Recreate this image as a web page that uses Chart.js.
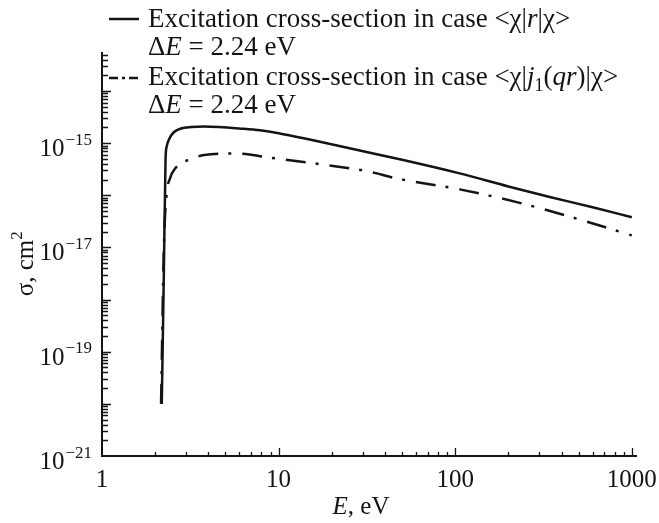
<!DOCTYPE html>
<html lang="en">
  <head>
    <meta charset="UTF-8" />
    <title>Excitation cross-section</title>
    <script src="https://cdn.jsdelivr.net/npm/chart.js"></script>
    <style>
      html, body { margin: 0; padding: 0; background: #fff; }
      #wrap { width: 659px; height: 523px; }
    </style>
  </head>
  <body>
    <div id="wrap"><canvas id="sigmaChart" width="659" height="523"></canvas></div>

    <script>
      // energy E, eV and cross-section sigma, cm^2
      const energyR = [2.18, 2.24, 2.29, 2.33, 2.42, 2.55, 2.8, 3.2, 3.8, 4.6, 6, 7.84, 10, 15, 28.8, 50, 106, 200, 343, 600, 1000];
      const sigmaR = [1.0e-20, 3.2e-18, 5.0e-16, 8.9e-16, 1.26e-15, 1.62e-15, 1.91e-15, 2.04e-15, 2.09e-15, 2.04e-15, 1.91e-15, 1.76e-15, 1.55e-15, 1.17e-15, 7.2e-16, 4.8e-16, 2.63e-16, 1.48e-16, 9.3e-17, 5.9e-17, 3.8e-17];

      const energyJ = [2.16, 2.24, 2.32, 2.43, 2.6, 3.2, 3.8, 5.0, 6.5, 7.84, 10, 18.8, 30, 36, 44, 106, 223, 527, 1000];
      const sigmaJ = [1.0e-20, 1.0e-17, 1.0e-16, 2.14e-16, 3.3e-16, 5.0e-16, 5.9e-16, 6.3e-16, 6.2e-16, 5.6e-16, 5.0e-16, 3.8e-16, 3.0e-16, 2.63e-16, 2.19e-16, 1.30e-16, 7.4e-17, 3.3e-17, 1.7e-17];

      const xTickLabels = ["1", "10", "100", "1000"];
      const yTickExps = [-21, -19, -17, -15];

      const FONT = '"Liberation Serif", "DejaVu Serif", "Times New Roman", serif';
      const INK = "#141414";

      function toPoints(xs, ys) {
        return xs.map((v, i) => ({ x: v, y: ys[i] }));
      }

      // draws a row of text pieces: [text, style] where style is "", "i" or "sub"
      function drawRuns(ctx, runs, x, y, size) {
        for (const [txt, st] of runs) {
          let f = size + "px " + FONT;
          let dy = 0;
          if (st === "i") f = "italic " + f;
          if (st === "sub") { f = Math.round(size * 0.68) + "px " + FONT; dy = size * 0.22; }
          ctx.font = f;
          ctx.fillText(txt, x, y + dy);
          x += ctx.measureText(txt).width;
        }
      }

      // "10" with a superscript exponent, right aligned at rx
      function drawPow(ctx, exp, rx, base, size) {
        const supTxt = "\u2212" + Math.abs(exp);
        ctx.font = Math.round(size * 0.68) + "px " + FONT;
        const sw = ctx.measureText(supTxt).width;
        ctx.fillText(supTxt, rx - sw, base - size * 0.45);
        ctx.font = size + "px " + FONT;
        const bw = ctx.measureText("10").width;
        ctx.fillText("10", rx - sw - bw - 1, base);
      }

      const axesPlugin = {
        id: "logAxes",
        afterDraw(chart) {
          const { ctx, chartArea: a } = chart;
          const xs = chart.scales.x, ys = chart.scales.y;
          ctx.save();
          ctx.strokeStyle = INK;
          ctx.fillStyle = INK;

          // axis lines
          ctx.lineWidth = 2;
          ctx.beginPath();
          ctx.moveTo(a.left, a.top);
          ctx.lineTo(a.left, a.bottom);
          ctx.lineTo(a.right, a.bottom);
          ctx.stroke();

          // x ticks, pointing up
          ctx.lineWidth = 1.3;
          ctx.beginPath();
          for (let e = 0; e <= 3; e++) {
            for (let m = 1; m <= 9; m++) {
              const v = m * Math.pow(10, e);
              if (v > xs.max || (e === 0 && m === 1)) continue;
              const px = Math.round(xs.getPixelForValue(v)) + 0.5;
              const len = m === 1 ? 8 : 4;
              ctx.moveTo(px, a.bottom);
              ctx.lineTo(px, a.bottom - len);
            }
          }
          // y ticks, pointing right
          for (let e = -21; e <= -14; e++) {
            for (let m = 1; m <= 9; m++) {
              const v = m * Math.pow(10, e);
              if (v > ys.max || (e === -21 && m === 1)) continue;
              const py = Math.round(ys.getPixelForValue(v)) + 0.5;
              const len = m === 1 ? 9 : 6;
              ctx.moveTo(a.left, py);
              ctx.lineTo(a.left + len, py);
            }
          }
          ctx.stroke();

          // x tick labels
          ctx.font = "25px " + FONT;
          ctx.textAlign = "center";
          ctx.textBaseline = "alphabetic";
          xTickLabels.forEach((t) => {
            ctx.fillText(t, xs.getPixelForValue(Number(t)), a.bottom + 31);
          });

          // y tick labels
          ctx.textAlign = "left";
          yTickExps.forEach((e) => {
            drawPow(ctx, e, a.left - 10, ys.getPixelForValue(Math.pow(10, e)) + 13, 25);
          });

          // axis titles
          ctx.font = "italic 25px " + FONT;
          const w1 = ctx.measureText("E").width;
          ctx.font = "25px " + FONT;
          const w2 = ctx.measureText(", eV").width;
          drawRuns(ctx, [["E", "i"], [", eV", ""]], 361 - (w1 + w2) / 2, 514, 25);

          ctx.save();
          ctx.translate(33, 262);
          ctx.rotate(-Math.PI / 2);
          ctx.font = "25px " + FONT;
          const tw = ctx.measureText("\u03c3, cm").width;
          ctx.fillText("\u03c3, cm", -tw / 2 - 6, 0);
          ctx.font = "17px " + FONT;
          ctx.fillText("2", tw / 2 - 6, -11);
          ctx.restore();

          // legend
          ctx.lineWidth = 2.5;
          ctx.setLineDash([]);
          ctx.beginPath();
          ctx.moveTo(109, 19);
          ctx.lineTo(139, 19);
          ctx.stroke();
          ctx.setLineDash([9, 4, 3, 4]);
          ctx.beginPath();
          ctx.moveTo(109, 78);
          ctx.lineTo(139, 78);
          ctx.stroke();
          ctx.setLineDash([]);

          const LS = 27;
          drawRuns(ctx, [["Excitation cross-section in case <\u03c7|", ""], ["r", "i"], ["|\u03c7>", ""]], 148, 27, LS);
          drawRuns(ctx, [["\u0394", ""], ["E", "i"], [" = 2.24 eV", ""]], 148, 55, LS);
          drawRuns(ctx, [["Excitation cross-section in case <\u03c7|", ""], ["j", "i"], ["1", "sub"], ["(", ""], ["qr", "i"], [")|\u03c7>", ""]], 148, 85, LS);
          drawRuns(ctx, [["\u0394", ""], ["E", "i"], [" = 2.24 eV", ""]], 148, 113, LS);

          ctx.restore();
        },
      };

      const sigmaChart = new Chart(document.getElementById("sigmaChart"), {
        type: "scatter",
        data: {
          datasets: [
            {
              label: "Excitation cross-section in case <χ|r|χ>",
              data: toPoints(energyR, sigmaR),
              showLine: true,
              borderColor: INK,
              borderWidth: 2.5,
              pointRadius: 0,
              cubicInterpolationMode: "monotone",
            },
            {
              label: "Excitation cross-section in case <χ|j1(qr)|χ>",
              data: toPoints(energyJ, sigmaJ),
              showLine: true,
              borderColor: INK,
              borderWidth: 2.5,
              borderDash: [20, 10, 3, 11],
              pointRadius: 0,
              cubicInterpolationMode: "monotone",
            },
          ],
        },
        options: {
          responsive: false,
          animation: false,
          layout: { padding: { left: 102, right: 22, top: 52, bottom: 67 } },
          plugins: { legend: { display: false }, tooltip: { enabled: false } },
          scales: {
            x: { type: "logarithmic", min: 1, max: 1070, display: false },
            y: { type: "logarithmic", min: 1e-21, max: 5.6e-14, display: false },
          },
        },
        plugins: [axesPlugin],
      });
    </script>
  </body>
</html>
